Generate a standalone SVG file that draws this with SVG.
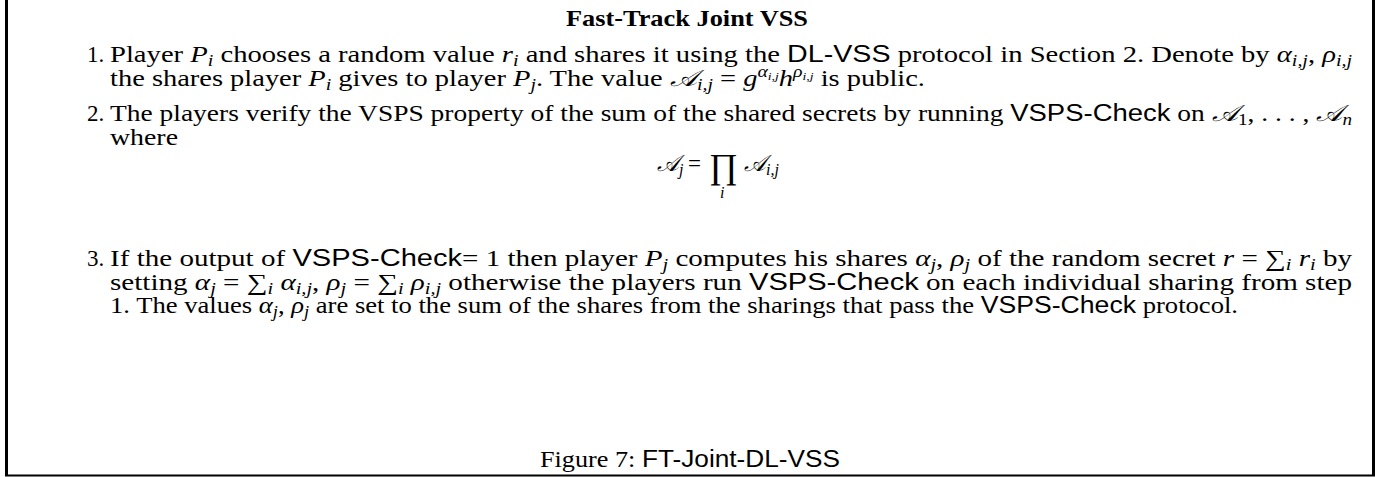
<svg xmlns="http://www.w3.org/2000/svg" width="1389" height="477" viewBox="0 0 1389 477">
<style>
.t{font-family:"Liberation Serif","Times New Roman",serif;font-size:23px;fill:#000}
.b{font-weight:bold}
.m{font-style:italic}
.s{font-family:"Liberation Sans",Arial,sans-serif}
.sub{font-size:16px}
.sup2{font-size:11px}
.big{font-size:35px}
.cal{font-family:"DejaVu Serif","Liberation Serif",serif;font-style:italic}
.frame{stroke:#000;fill:none}
</style>
<rect width="1389" height="477" fill="#fff"/>
<g id="frame">
<line class="frame" x1="6.5" y1="0" x2="6.5" y2="476" stroke-width="3"/>
<line class="frame" x1="1373.5" y1="0" x2="1373.5" y2="476" stroke-width="3"/>
<line class="frame" x1="5" y1="475.5" x2="1375" y2="475.5" stroke-width="2"/>
</g>
<g id="title"><text class="t b" x="566" y="26" textLength="242" lengthAdjust="spacingAndGlyphs">Fast-Track Joint VSS</text></g>
<g id="step1">
<text class="t" x="87" y="62">1.</text>
<text class="t" x="110" y="62" textLength="1242" lengthAdjust="spacingAndGlyphs">Player <tspan class="m">P</tspan><tspan class="sub m" dy="4">i</tspan><tspan dy="-4"> chooses a random value </tspan><tspan class="m">r</tspan><tspan class="sub m" dy="4">i</tspan><tspan dy="-4"> and shares it using the </tspan><tspan class="s">DL-VSS</tspan> protocol in Section 2.  Denote by <tspan class="m">α</tspan><tspan class="sub m" dy="4">i,j</tspan><tspan dy="-4">, </tspan><tspan class="m">ρ</tspan><tspan class="sub m" dy="4">i,j</tspan></text>
<text class="t" x="110" y="86" textLength="815" lengthAdjust="spacingAndGlyphs">the shares player <tspan class="m">P</tspan><tspan class="sub m" dy="4">i</tspan><tspan dy="-4"> gives to player </tspan><tspan class="m">P</tspan><tspan class="sub m" dy="4">j</tspan><tspan dy="-4">. The value </tspan><tspan class="cal">𝒜</tspan><tspan class="sub m" dy="4">i,j</tspan><tspan dy="-4"> = </tspan><tspan class="m">g</tspan><tspan class="sub m" dy="-9">α</tspan><tspan class="m sup2" dy="3">i,j</tspan><tspan class="m" dy="6">h</tspan><tspan class="sub m" dy="-9">ρ</tspan><tspan class="m sup2" dy="3">i,j</tspan><tspan dy="6"> is public.</tspan></text>
</g>
<g id="step2">
<text class="t" x="87" y="121">2.</text>
<text class="t" x="110" y="121" textLength="1242" lengthAdjust="spacingAndGlyphs">The players verify the VSPS property of the sum of the shared secrets by running <tspan class="s">VSPS-Check</tspan> on <tspan class="cal">𝒜</tspan><tspan class="sub" dy="4">1</tspan><tspan dy="-4">, . . . , </tspan><tspan class="cal">𝒜</tspan><tspan class="sub m" dy="4">n</tspan></text>
<text class="t" x="110" y="145" textLength="68" lengthAdjust="spacingAndGlyphs">where</text>
<text class="t" x="657" y="171"><tspan class="cal">𝒜</tspan><tspan class="sub m" dy="4">j</tspan></text>
<text class="t" x="688" y="171">=</text>
<text class="t big" x="709" y="178">∏</text>
<text class="t m sub" x="720" y="198">i</text>
<text class="t" x="744" y="171"><tspan class="cal">𝒜</tspan><tspan class="sub m" dy="4">i,j</tspan></text>
</g>
<g id="step3">
<text class="t" x="87" y="266">3.</text>
<text class="t" x="110" y="266" textLength="1242" lengthAdjust="spacingAndGlyphs">If the output of <tspan class="s">VSPS-Check</tspan>= 1 then player <tspan class="m">P</tspan><tspan class="sub m" dy="4">j</tspan><tspan dy="-4"> computes his shares </tspan><tspan class="m">α</tspan><tspan class="sub m" dy="4">j</tspan><tspan dy="-4">, </tspan><tspan class="m">ρ</tspan><tspan class="sub m" dy="4">j</tspan><tspan dy="-4"> of the random secret </tspan><tspan class="m">r</tspan> = ∑<tspan class="sub m" dy="4">i</tspan><tspan class="m" dy="-4"> r</tspan><tspan class="sub m" dy="4">i</tspan><tspan dy="-4"> by</tspan></text>
<text class="t" x="110" y="290" textLength="1242" lengthAdjust="spacingAndGlyphs">setting <tspan class="m">α</tspan><tspan class="sub m" dy="4">j</tspan><tspan dy="-4"> = ∑</tspan><tspan class="sub m" dy="4">i</tspan><tspan class="m" dy="-4"> α</tspan><tspan class="sub m" dy="4">i,j</tspan><tspan dy="-4">, </tspan><tspan class="m">ρ</tspan><tspan class="sub m" dy="4">j</tspan><tspan dy="-4"> = ∑</tspan><tspan class="sub m" dy="4">i</tspan><tspan class="m" dy="-4"> ρ</tspan><tspan class="sub m" dy="4">i,j</tspan><tspan dy="-4"> otherwise the players run </tspan><tspan class="s">VSPS-Check</tspan> on each individual sharing from step</text>
<text class="t" x="110" y="313" textLength="1128" lengthAdjust="spacingAndGlyphs">1. The values <tspan class="m">α</tspan><tspan class="sub m" dy="4">j</tspan><tspan dy="-4">, </tspan><tspan class="m">ρ</tspan><tspan class="sub m" dy="4">j</tspan><tspan dy="-4"> are set to the sum of the shares from the sharings that pass the </tspan><tspan class="s">VSPS-Check</tspan> protocol.</text>
</g>
<g id="caption"><text class="t" x="540" y="467" textLength="300" lengthAdjust="spacingAndGlyphs">Figure 7: <tspan class="s">FT-Joint-DL-VSS</tspan></text></g>
</svg>
